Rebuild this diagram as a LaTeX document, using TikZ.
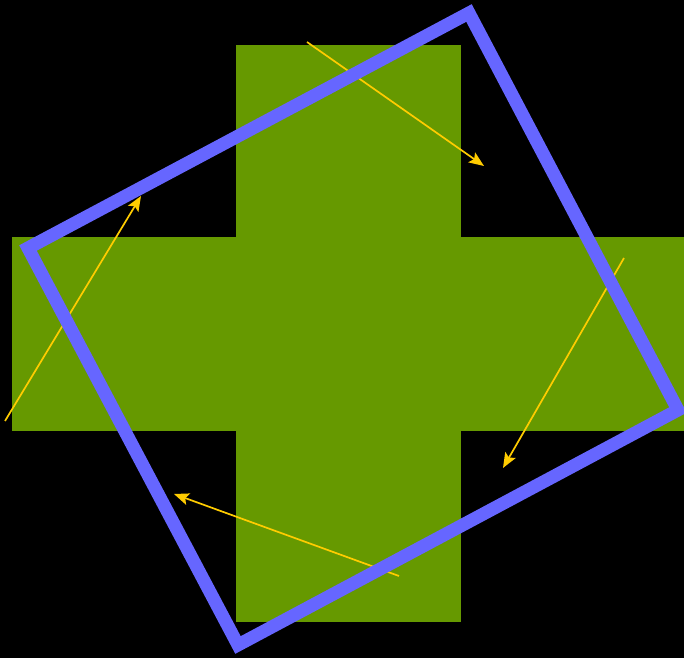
\documentclass[tikz,border=0pt]{standalone}
\usepackage{tikz}
\usetikzlibrary{arrows.meta}
\usepackage{xcolor}
\definecolor{cfond}{RGB}{0,0,0}
\definecolor{cvert}{RGB}{102,153,0}
\definecolor{cbleu}{RGB}{102,102,255}
\definecolor{cjaune}{RGB}{255,204,0}

\begin{document}
\begin{tikzpicture}[x=0.01cm, y=-0.01cm, >={Stealth[length=0.15cm,width=0.12cm,inset=0.03cm]}]
\fill[cfond] (0,0) rectangle (684,658);
\useasboundingbox (0,0) rectangle (684,658);
% croix
\fill[cvert] (236,45) rectangle (461,622);
\fill[cvert] (12,237) rectangle (684,431);
% fleches de rotation
\coordinate (a1) at (307,42);  \coordinate (b1) at (484,166);
\coordinate (a2) at (624,258); \coordinate (b2) at (503,468);
\coordinate (a3) at (399,576); \coordinate (b3) at (174,494);
\coordinate (a4) at (5,421);   \coordinate (b4) at (141,196);
\draw[->,cjaune,line width=0.017cm] (a1) -- (b1);
\draw[->,cjaune,line width=0.017cm] (a2) -- (b2);
\draw[->,cjaune,line width=0.017cm] (a3) -- (b3);
\draw[->,cjaune,line width=0.017cm] (a4) -- (b4);
% cadre tourne
\coordinate (H) at (469,13);
\coordinate (D) at (678,410);
\coordinate (B) at (238,645);
\coordinate (G) at (28,248);
\draw[cbleu,line width=0.13cm,line join=miter] (H) -- (D) -- (B) -- (G) -- cycle;
\end{tikzpicture}
\end{document}
